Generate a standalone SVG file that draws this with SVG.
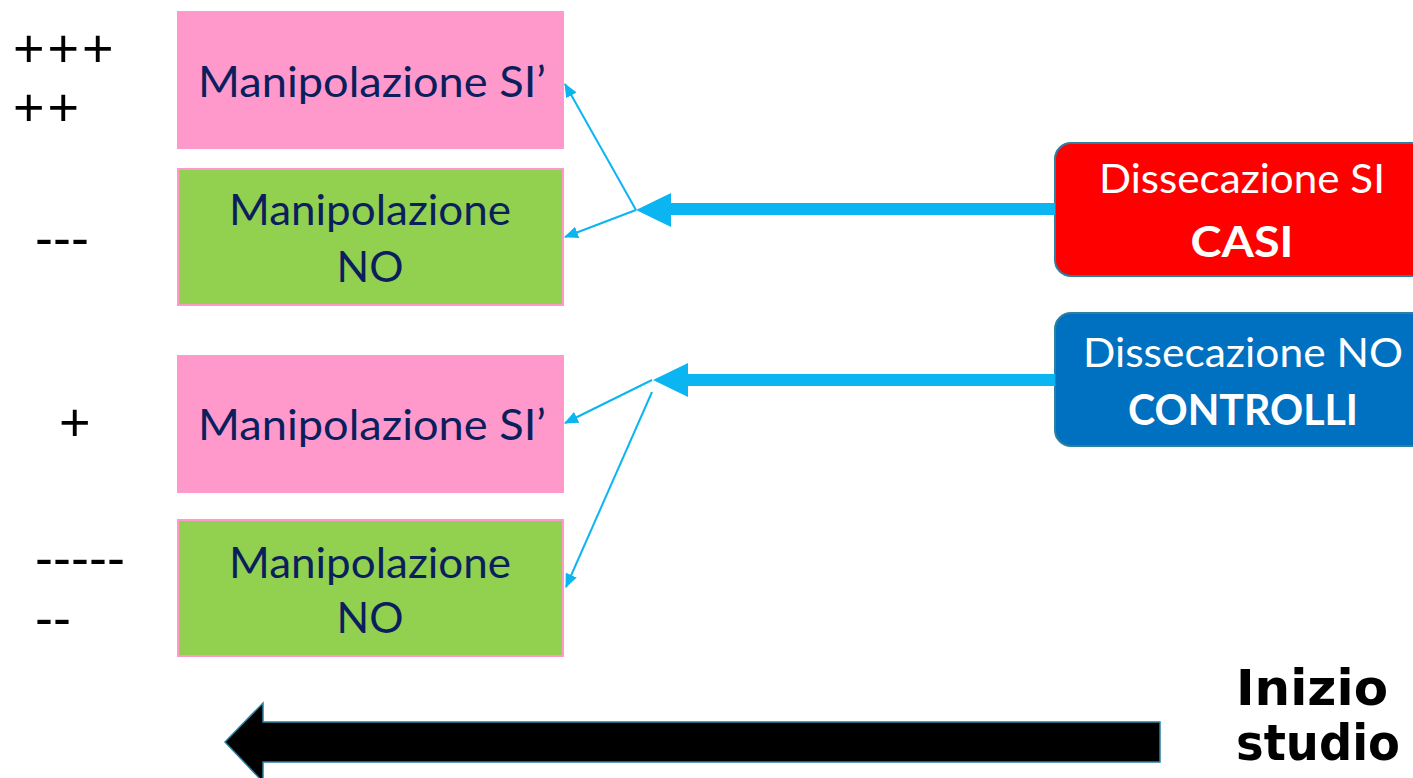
<svg xmlns="http://www.w3.org/2000/svg" width="1413" height="778" viewBox="0 0 1413 778">
  <defs>
    <style>
      .pink { fill: #FF99CC; }
      .green { fill: #92D050; stroke: #FF99CC; stroke-width: 2; }
      .lbl { font-family: Lato, "Noto Sans", sans-serif; font-size: 42px; fill: #0A1F5C; text-anchor: middle; }
      .sym { font-family: "Liberation Sans", Arial, sans-serif; font-size: 54px; fill: #000; }
      .rbox { stroke: #2B7FA0; stroke-width: 2; }
      .rtxt { font-family: Lato, "Noto Sans", sans-serif; font-size: 41px; fill: #fff; text-anchor: middle; }
      .rbold { font-weight: bold; font-size: 42px; }
      .thick { stroke: #0BB5F2; stroke-width: 12; fill: none; }
      .thin { stroke: #0BB5F2; stroke-width: 2; fill: none; marker-end: url(#tip); }
      .head { fill: #0BB5F2; }
    </style>
    <marker id="tip" viewBox="0 0 14 12" refX="13" refY="6" markerWidth="14" markerHeight="12" markerUnits="userSpaceOnUse" orient="auto">
      <path d="M0,0 L14,6 L0,12 Z" fill="#0BB5F2"/>
    </marker>
  </defs>

  <rect width="1413" height="778" fill="#fff"/>

  <!-- score symbols on the left -->
  <g id="scores">
    <text class="sym" x="13" y="67" letter-spacing="3">+++</text>
    <text class="sym" x="13" y="126" letter-spacing="3">++</text>
    <text class="sym" x="35" y="256">---</text>
    <text class="sym" x="59" y="441">+</text>
    <text class="sym" x="35" y="576">-----</text>
    <text class="sym" x="35" y="636">--</text>
  </g>

  <g id="manip-si-1">
    <rect class="pink" x="177" y="11" width="387" height="138"/>
    <text class="lbl" x="372" y="97" textLength="348" lengthAdjust="spacingAndGlyphs">Manipolazione SI’</text>
  </g>
  <g id="manip-no-1">
    <rect class="green" x="178" y="169" width="385" height="136"/>
    <text class="lbl" x="370" y="225" textLength="282" lengthAdjust="spacingAndGlyphs">Manipolazione</text>
    <text class="lbl" x="370" y="282" textLength="67" lengthAdjust="spacingAndGlyphs">NO</text>
  </g>
  <g id="manip-si-2">
    <rect class="pink" x="177" y="355" width="387" height="138"/>
    <text class="lbl" x="372" y="440" textLength="348" lengthAdjust="spacingAndGlyphs">Manipolazione SI’</text>
  </g>
  <g id="manip-no-2">
    <rect class="green" x="178" y="520" width="385" height="136"/>
    <text class="lbl" x="370" y="578" textLength="282" lengthAdjust="spacingAndGlyphs">Manipolazione</text>
    <text class="lbl" x="370" y="633" textLength="67" lengthAdjust="spacingAndGlyphs">NO</text>
  </g>

  <g id="casi">
    <rect class="rbox" x="1055" y="143" width="380" height="133" rx="16" fill="#FF0000"/>
    <text class="rtxt" x="1242" y="193" textLength="286" lengthAdjust="spacingAndGlyphs">Dissecazione SI</text>
    <text class="rtxt rbold" x="1242" y="257" textLength="103" lengthAdjust="spacingAndGlyphs">CASI</text>
  </g>
  <g id="controlli">
    <rect class="rbox" x="1055" y="313" width="380" height="133" rx="16" fill="#0070C0"/>
    <text class="rtxt" x="1243" y="367" textLength="320" lengthAdjust="spacingAndGlyphs">Dissecazione NO</text>
    <text class="rtxt rbold" x="1243" y="425" textLength="230" lengthAdjust="spacingAndGlyphs">CONTROLLI</text>
  </g>

  <g id="connectors">
    <!-- case branch -->
    <line class="thick" x1="1055" y1="209" x2="668" y2="209"/>
    <polygon class="head" points="636,210 671,193 671,227"/>
    <line class="thin" x1="636" y1="210" x2="565" y2="84"/>
    <line class="thin" x1="636" y1="210" x2="565" y2="237"/>
    <!-- control branch -->
    <line class="thick" x1="1055" y1="380" x2="685" y2="380"/>
    <polygon class="head" points="653,380 688,363 688,397"/>
    <line class="thin" x1="652" y1="380" x2="565" y2="423"/>
    <line class="thin" x1="652" y1="392" x2="566" y2="587"/>
  </g>

  <!-- time axis -->
  <g id="timeline">
    <polygon points="1160,722 263,722 263,703 225,742 263,782 263,762 1160,762" fill="#000" stroke="#2B7FA0" stroke-width="1.5"/>
    <text x="1236" y="705" font-family="'DejaVu Sans', sans-serif" font-weight="bold" font-size="50" textLength="152" lengthAdjust="spacingAndGlyphs">Inizio</text>
    <text x="1236" y="760" font-family="'DejaVu Sans', sans-serif" font-weight="bold" font-size="50" textLength="164" lengthAdjust="spacingAndGlyphs">studio</text>
  </g>
</svg>
